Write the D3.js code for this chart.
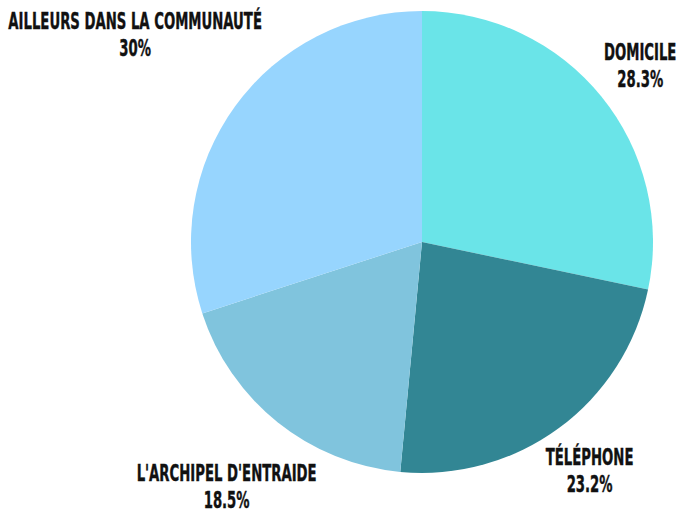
<!DOCTYPE html>
<html>
<head>
<meta charset="utf-8">
<script src="https://cdn.jsdelivr.net/npm/d3@7"></script>
<style>
  html, body { margin: 0; padding: 0; background: #ffffff; }
  svg { display: block; }
  .lbl { font-family: "DejaVu Sans Condensed", "Liberation Sans Narrow", "DejaVu Sans", sans-serif; font-weight: bold; fill: #111111; stroke: #111111; stroke-width: 0.4px; }
</style>
</head>
<body>
<div id="chart"></div>
<script>
const categories = ["DOMICILE", "TÉLÉPHONE", "L'ARCHIPEL D'ENTRAIDE", "AILLEURS DANS LA COMMUNAUTÉ"];
const values = [28.3, 23.2, 18.5, 30];
const colors = ["#6AE4E8", "#328694", "#80C4DD", "#97D5FE"];

const W = 697, H = 510;
const cx = 422, cy = 242, radius = 231;
const fontSize = 23, capH = 17, lineGap = 27, condense = 0.64;

const svg = d3.select("#chart").append("svg").attr("width", W).attr("height", H);
const g = svg.append("g").attr("transform", `translate(${cx},${cy})`);

const data = categories.map((c, i) => ({ name: c, value: values[i], color: colors[i] }));
const pie = d3.pie().value(d => d.value).sort(null).startAngle(0).endAngle(2 * Math.PI);
const arc = d3.arc().innerRadius(0).outerRadius(radius);
const arcs = pie(data);

g.selectAll("path.slice").data(arcs).join("path")
  .attr("class", "slice")
  .attr("d", arc)
  .attr("fill", d => d.data.color);

const labelR = radius + 8;
arcs.forEach(d => {
  const lg = g.append("g");
  const t1 = lg.append("text").attr("class", "lbl").attr("font-size", fontSize)
    .attr("text-anchor", "middle").text(d.data.name);
  const t2 = lg.append("text").attr("class", "lbl").attr("font-size", fontSize)
    .attr("text-anchor", "middle").text(d.data.value + "%");
  const w1 = t1.node().getComputedTextLength() * condense;
  const w2 = t2.node().getComputedTextLength() * condense;
  const bw = Math.max(w1, w2);
  const bh = capH + lineGap;
  const a = (d.startAngle + d.endAngle) / 2;
  const s = Math.sin(a), c = -Math.cos(a);
  const D = labelR + (bw / 2) * Math.abs(s) + (bh / 2) * Math.abs(c);
  const x = D * s, yc = D * c;
  const base1 = yc - bh / 2 + capH;
  t1.attr("transform", `translate(${x},${base1}) scale(${condense},1)`);
  t2.attr("transform", `translate(${x},${base1 + lineGap}) scale(${condense},1)`);
});
</script>
</body>
</html>
